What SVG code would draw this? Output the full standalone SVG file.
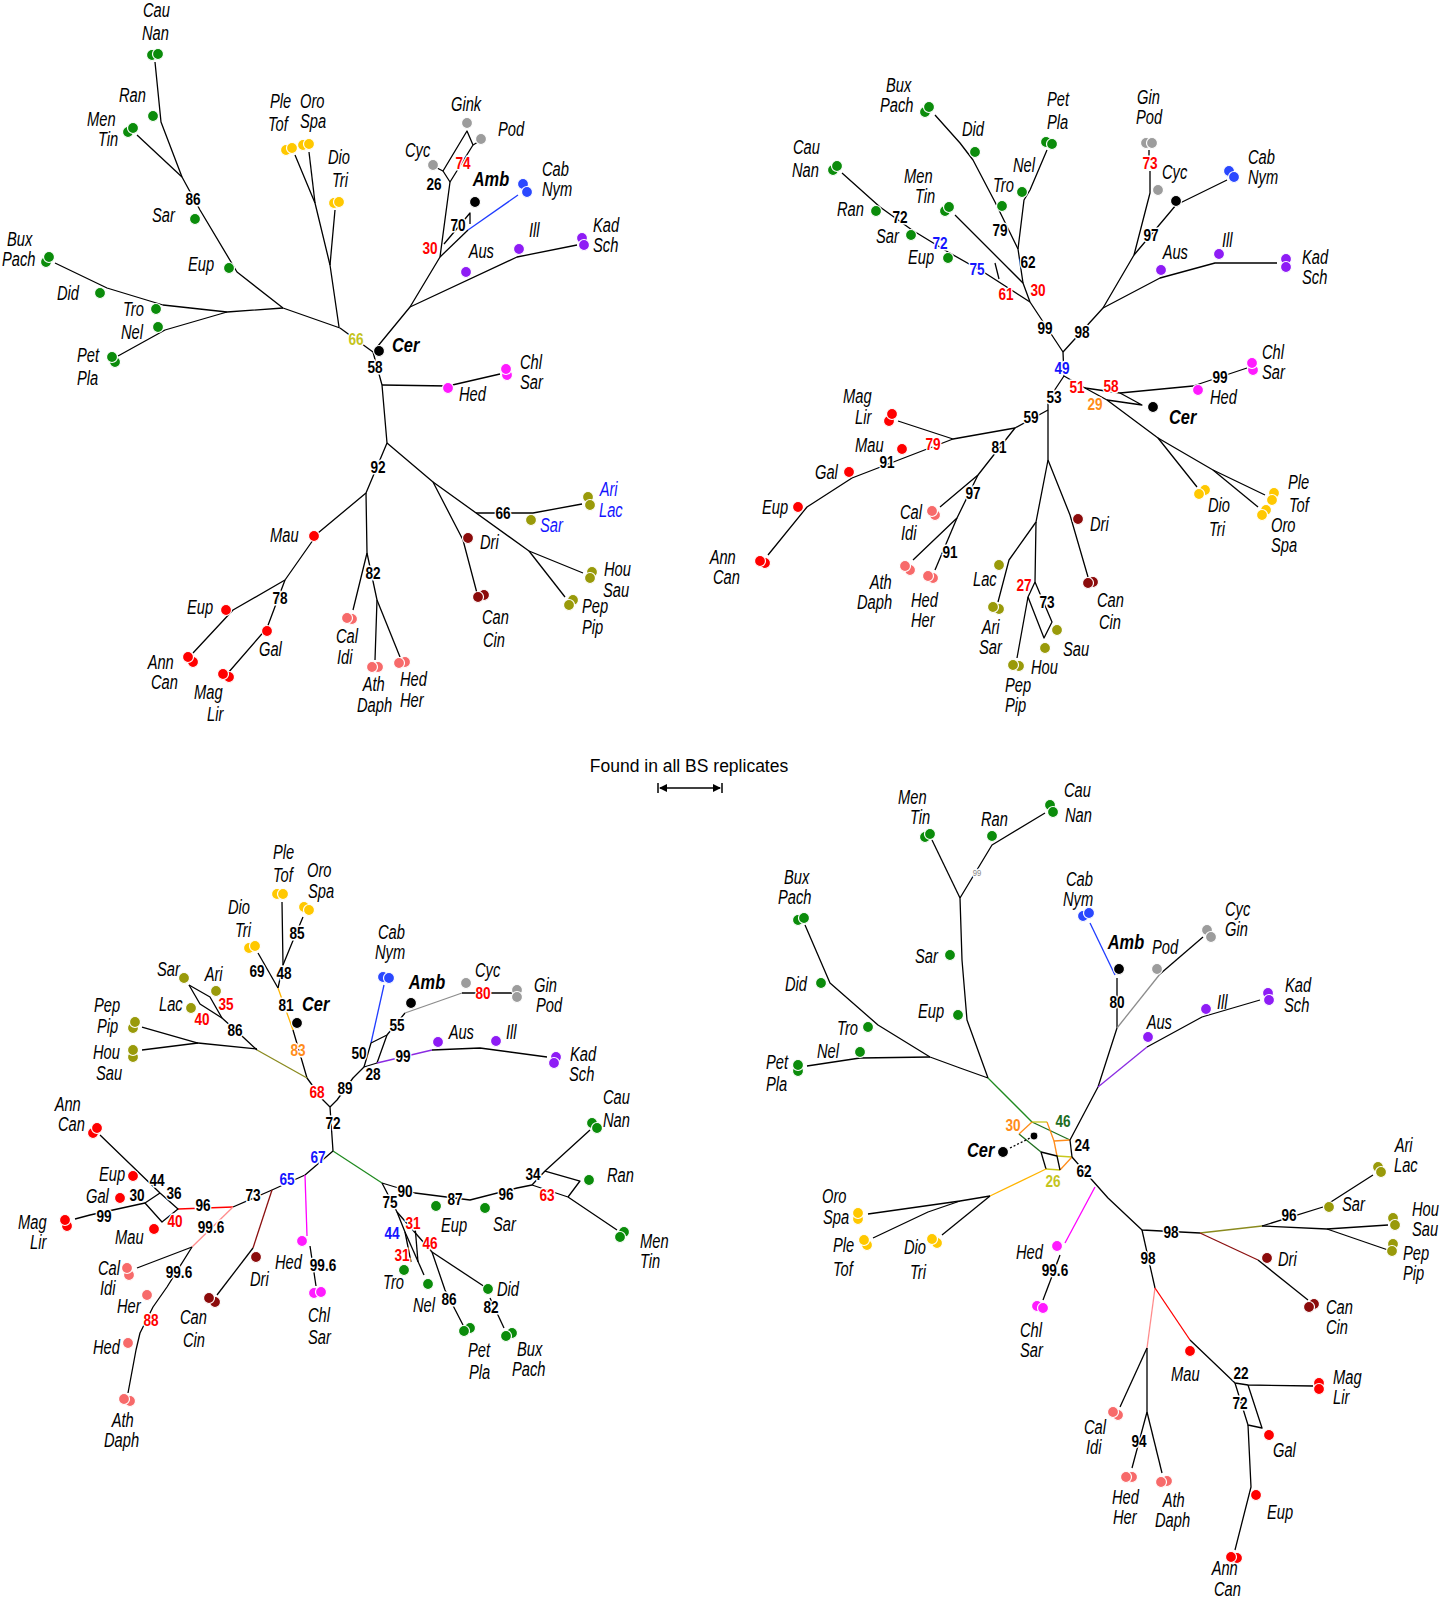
<svg xmlns="http://www.w3.org/2000/svg" width="1441" height="1600" viewBox="0 0 1441 1600">
<style>
.e{fill:none;stroke:#000;stroke-width:1.3;stroke-linejoin:round}
.eB{stroke:#1f3cff}.eY{stroke:#8c8c8c}.eP{stroke:#8a2be2}.eG{stroke:#1f8a1f}.eM{stroke:#ff00ff}.eD{stroke:#8b1010}.eR{stroke:#f00}.eS{stroke:#ff8c8c}.eV{stroke:#8a8a1e}.eO{stroke:#ffb400}.eYG{stroke:#c8c81e}.eOr{stroke:#ff8c1a}.eDG{stroke:#1f6e1f}
.t{font-family:"Liberation Sans",Arial,sans-serif;font-style:italic;font-size:21px;fill:#000;transform-box:fill-box;transform-origin:0 0;transform:scale(.7,1)}
.bi{font-weight:bold;transform:scale(.78,1)}
.n{font-family:"Liberation Sans",Arial,sans-serif;font-weight:bold;font-size:16px;text-anchor:middle;fill:#000;stroke:#fff;stroke-width:3;paint-order:stroke;transform-box:fill-box;transform-origin:50% 50%;transform:scale(.85,1)}
.ti{font-family:"Liberation Sans",Arial,sans-serif;font-size:17.5px;text-anchor:middle;fill:#000}
circle{stroke:#fff;stroke-width:1.2}
.G{fill:#0b8c0b}.Y{fill:#9c9c9c}.B{fill:#2a48ff}.P{fill:#8e1cf5}.M{fill:#ff1aff}.K{fill:#000}.O{fill:#ffc800}.V{fill:#999a0a}.D{fill:#8b0b0b}.R{fill:#ff0000}.S{fill:#f76a6a}
.r{fill:#f00}.bl{fill:#1414ff}.or{fill:#ff8c1a}.yg{fill:#c4c41e}.dg{fill:#1f6e1f}.gy{fill:#888;font-size:9px;font-weight:normal}
</style>

<!-- ===================== Q1 (top-left) ===================== -->
<g id="q1-edges" class="e">
<polyline points="155,62 161,122 182,177"/>
<polyline points="137,135 182,177"/>
<polyline points="182,177 200,210 237,272 283,308 340,328"/>
<polyline points="55,263 107,288 163,305 227,312 283,308"/>
<polyline points="118,356 165,330 227,312"/>
<polyline points="295,155 315,203 330,265 339,327"/>
<polyline points="309,152 315,203"/>
<polyline points="335,210 330,265"/>
<polyline points="340,328 373,352"/>
<polyline points="373,352 410,307 440,257 450,182"/>
<polyline points="450,182 443,171 467,131 473,145 450,182"/>
<polyline points="443,171 437,168"/>
<polyline points="473,145 478,142"/>
<polyline points="410,307 517,257 577,245"/>
<polyline points="440,257 468,230"/>
<polyline points="444,244 470,213 470,224"/>
<polyline class="eB" points="468,230 518,195"/>
<polyline points="373,352 382,385 387,443"/>
<polyline points="382,385 448,386 500,374"/>
<polyline points="387,443 366,493 318,533 285,580 233,610 193,653"/>
<polyline points="285,580 267,628 228,673"/>
<polyline points="366,493 367,553 353,610"/>
<polyline points="367,553 377,600 375,660"/>
<polyline points="377,600 400,657"/>
<polyline points="387,443 433,482 463,540 478,597"/>
<polyline points="433,482 529,551 583,573"/>
<polyline points="529,551 565,597"/>
<polyline points="476,513 533,513 582,504"/>
</g>
<g id="q1-cau"><circle class="G" cx="152" cy="55" r="5.5"/><circle class="G" cx="158" cy="54" r="5.5"/><text class="t" x="143" y="17">Cau</text><text class="t" x="142" y="40">Nan</text></g>
<g id="q1-ran"><circle class="G" cx="153" cy="116" r="5.5"/><text class="t" x="119" y="102">Ran</text></g>
<g id="q1-men"><circle class="G" cx="128" cy="132" r="5.5"/><circle class="G" cx="133" cy="128" r="5.5"/><text class="t" x="87" y="126">Men</text><text class="t" x="98" y="146">Tin</text></g>
<g id="q1-sar"><circle class="G" cx="195" cy="219" r="5.5"/><text class="t" x="152" y="222">Sar</text></g>
<g id="q1-eup"><circle class="G" cx="229" cy="268" r="5.5"/><text class="t" x="188" y="271">Eup</text></g>
<g id="q1-bux"><circle class="G" cx="46" cy="262" r="5.5"/><circle class="G" cx="49" cy="257" r="5.5"/><text class="t" x="7" y="246">Bux</text><text class="t" x="2" y="266">Pach</text></g>
<g id="q1-did"><circle class="G" cx="100" cy="293" r="5.5"/><text class="t" x="57" y="300">Did</text></g>
<g id="q1-tro"><circle class="G" cx="156" cy="309" r="5.5"/><text class="t" x="123" y="316">Tro</text></g>
<g id="q1-nel"><circle class="G" cx="158" cy="327" r="5.5"/><text class="t" x="121" y="339">Nel</text></g>
<g id="q1-pet"><circle class="G" cx="115" cy="362" r="5.5"/><circle class="G" cx="112" cy="357" r="5.5"/><text class="t" x="77" y="362">Pet</text><text class="t" x="77" y="385">Pla</text></g>
<g id="q1-ple"><circle class="O" cx="286" cy="150" r="5.5"/><circle class="O" cx="292" cy="148" r="5.5"/><text class="t" x="270" y="108">Ple</text><text class="t" x="268" y="131">Tof</text></g>
<g id="q1-oro"><circle class="O" cx="303" cy="145" r="5.5"/><circle class="O" cx="309" cy="144" r="5.5"/><text class="t" x="300" y="108">Oro</text><text class="t" x="300" y="128">Spa</text></g>
<g id="q1-dio"><circle class="O" cx="334" cy="203" r="5.5"/><circle class="O" cx="339" cy="202" r="5.5"/><text class="t" x="328" y="164">Dio</text><text class="t" x="332" y="187">Tri</text></g>
<g id="q1-gink"><circle class="Y" cx="467" cy="123" r="5.5"/><text class="t" x="451" y="111">Gink</text></g>
<g id="q1-pod"><circle class="Y" cx="481" cy="139" r="5.5"/><text class="t" x="498" y="136">Pod</text></g>
<g id="q1-cyc"><circle class="Y" cx="433" cy="165" r="5.5"/><text class="t" x="405" y="157">Cyc</text></g>
<g id="q1-amb"><circle class="K" cx="475" cy="202" r="5.5"/><text class="t bi" x="473" y="186">Amb</text></g>
<g id="q1-cab"><circle class="B" cx="523" cy="184" r="5.5"/><circle class="B" cx="527" cy="192" r="5.5"/><text class="t" x="542" y="176">Cab</text><text class="t" x="542" y="196">Nym</text></g>
<g id="q1-aus"><circle class="P" cx="466" cy="272" r="5.5"/><text class="t" x="469" y="258">Aus</text></g>
<g id="q1-ill"><circle class="P" cx="519" cy="249" r="5.5"/><text class="t" x="529" y="237">Ill</text></g>
<g id="q1-kad"><circle class="P" cx="582" cy="238" r="5.5"/><circle class="P" cx="584" cy="245" r="5.5"/><text class="t" x="593" y="232">Kad</text><text class="t" x="593" y="252">Sch</text></g>
<g id="q1-cer"><circle class="K" cx="379" cy="351" r="5.5"/><text class="t bi" x="392" y="352">Cer</text></g>
<g id="q1-hed"><circle class="M" cx="448" cy="388" r="5.5"/><text class="t" x="459" y="401">Hed</text></g>
<g id="q1-chl"><circle class="M" cx="507" cy="375" r="5.5"/><circle class="M" cx="506" cy="369" r="5.5"/><text class="t" x="520" y="369">Chl</text><text class="t" x="520" y="389">Sar</text></g>
<g id="q1-mau"><circle class="R" cx="314" cy="536" r="5.5"/><text class="t" x="270" y="542">Mau</text></g>
<g id="q1-eup2"><circle class="R" cx="226" cy="610" r="5.5"/><text class="t" x="187" y="614">Eup</text></g>
<g id="q1-ann"><circle class="R" cx="193" cy="662" r="5.5"/><circle class="R" cx="188" cy="657" r="5.5"/><text class="t" x="148" y="669">Ann</text><text class="t" x="151" y="689">Can</text></g>
<g id="q1-gal"><circle class="R" cx="267" cy="631" r="5.5"/><text class="t" x="259" y="656">Gal</text></g>
<g id="q1-mag"><circle class="R" cx="229" cy="677" r="5.5"/><circle class="R" cx="223" cy="674" r="5.5"/><text class="t" x="194" y="699">Mag</text><text class="t" x="207" y="721">Lir</text></g>
<g id="q1-cal"><circle class="S" cx="352" cy="619" r="5.5"/><circle class="S" cx="347" cy="618" r="5.5"/><text class="t" x="336" y="643">Cal</text><text class="t" x="337" y="664">Idi</text></g>
<g id="q1-ath"><circle class="S" cx="378" cy="667" r="5.5"/><circle class="S" cx="372" cy="667" r="5.5"/><text class="t" x="363" y="691">Ath</text><text class="t" x="357" y="712">Daph</text></g>
<g id="q1-hedher"><circle class="S" cx="405" cy="662" r="5.5"/><circle class="S" cx="399" cy="663" r="5.5"/><text class="t" x="400" y="686">Hed</text><text class="t" x="400" y="707">Her</text></g>
<g id="q1-dri"><circle class="D" cx="468" cy="538" r="5.5"/><text class="t" x="480" y="549">Dri</text></g>
<g id="q1-can"><circle class="D" cx="484" cy="595" r="5.5"/><circle class="D" cx="478" cy="597" r="5.5"/><text class="t" x="482" y="624">Can</text><text class="t" x="483" y="647">Cin</text></g>
<g id="q1-sar2"><circle class="V" cx="531" cy="520" r="5.5"/><text class="t bl" x="540" y="532">Sar</text></g>
<g id="q1-ari"><circle class="V" cx="588" cy="497" r="5.5"/><circle class="V" cx="590" cy="505" r="5.5"/><text class="t bl" x="600" y="496">Ari</text><text class="t bl" x="599" y="517">Lac</text></g>
<g id="q1-hou"><circle class="V" cx="592" cy="572" r="5.5"/><circle class="V" cx="590" cy="578" r="5.5"/><text class="t" x="604" y="576">Hou</text><text class="t" x="603" y="597">Sau</text></g>
<g id="q1-pep"><circle class="V" cx="573" cy="600" r="5.5"/><circle class="V" cx="569" cy="605" r="5.5"/><text class="t" x="582" y="613">Pep</text><text class="t" x="582" y="634">Pip</text></g>
<g id="q1-support">
<text class="n" x="193" y="205">86</text><text class="n r" x="463" y="169">74</text><text class="n" x="434" y="190">26</text>
<text class="n" x="458" y="231">70</text><text class="n r" x="430" y="254">30</text><text class="n yg" x="356" y="345">66</text>
<text class="n" x="375" y="373">58</text><text class="n" x="378" y="473">92</text><text class="n" x="280" y="604">78</text>
<text class="n" x="373" y="579">82</text><text class="n" x="503" y="519">66</text>
</g>

<!-- ===================== Q2 (top-right) ===================== -->
<g id="q2-edges" class="e">
<polyline points="935,115 960,143 973,160 995,202 1018,249 1023,283 1030,302 1063,352"/>
<polyline points="1047,150 1030,190 1024,200 1018,249"/>
<polyline points="955,215 1023,283"/>
<polyline points="842,173 880,207 912,230 948,252 985,273 1030,302"/>
<polyline points="995,263 999,279"/>
<polyline points="1063,352 1103,308 1134,255 1150,193 1150,171"/>
<polyline points="1149,150 1149,156"/>
<polyline points="1134,255 1176,205 1227,180"/>
<polyline points="1103,308 1160,278 1215,263 1277,263"/>
<polyline points="1063,352 1064,376 1085,388 1107,400 1158,438 1197,487"/>
<polyline points="1158,438 1213,470 1265,495"/>
<polyline points="1213,470 1258,507"/>
<polyline points="1085,388 1120,393 1193,386 1247,368"/>
<polyline points="1120,393 1142,405 1107,400"/>
<polyline points="1064,376 1048,400 1048,460"/>
<polyline points="1048,410 1015,428 953,439 898,421"/>
<polyline points="953,439 852,478 807,507 768,555"/>
<polyline points="1015,428 1000,447 978,475 940,507"/>
<polyline points="978,475 957,518 913,560"/>
<polyline points="957,518 935,570"/>
<polyline points="1048,460 1036,522 1009,560 998,602"/>
<polyline points="1048,460 1070,515 1088,577"/>
<polyline points="1036,522 1035,582 1028,597 1017,658"/>
<polyline points="1035,582 1052,622 1044,638 1028,597"/>
</g>
<g id="q2-bux"><circle class="G" cx="925" cy="112" r="5.5"/><circle class="G" cx="929" cy="107" r="5.5"/><text class="t" x="886" y="92">Bux</text><text class="t" x="880" y="112">Pach</text></g>
<g id="q2-did"><circle class="G" cx="975" cy="152" r="5.5"/><text class="t" x="962" y="136">Did</text></g>
<g id="q2-tro"><circle class="G" cx="1002" cy="206" r="5.5"/><text class="t" x="993" y="192">Tro</text></g>
<g id="q2-pet"><circle class="G" cx="1046" cy="142" r="5.5"/><circle class="G" cx="1052" cy="144" r="5.5"/><text class="t" x="1047" y="106">Pet</text><text class="t" x="1047" y="129">Pla</text></g>
<g id="q2-nel"><circle class="G" cx="1022" cy="192" r="5.5"/><text class="t" x="1013" y="172">Nel</text></g>
<g id="q2-cau"><circle class="G" cx="833" cy="170" r="5.5"/><circle class="G" cx="837" cy="166" r="5.5"/><text class="t" x="793" y="154">Cau</text><text class="t" x="792" y="177">Nan</text></g>
<g id="q2-ran"><circle class="G" cx="876" cy="211" r="5.5"/><text class="t" x="837" y="216">Ran</text></g>
<g id="q2-men"><circle class="G" cx="945" cy="211" r="5.5"/><circle class="G" cx="949" cy="207" r="5.5"/><text class="t" x="904" y="183">Men</text><text class="t" x="915" y="203">Tin</text></g>
<g id="q2-sar"><circle class="G" cx="911" cy="235" r="5.5"/><text class="t" x="876" y="243">Sar</text></g>
<g id="q2-eup"><circle class="G" cx="948" cy="258" r="5.5"/><text class="t" x="908" y="264">Eup</text></g>
<g id="q2-gin"><circle class="Y" cx="1146" cy="143" r="5.5"/><circle class="Y" cx="1152" cy="143" r="5.5"/><text class="t" x="1137" y="104">Gin</text><text class="t" x="1136" y="124">Pod</text></g>
<g id="q2-cyc"><circle class="Y" cx="1158" cy="190" r="5.5"/><text class="t" x="1162" y="179">Cyc</text></g>
<g id="q2-amb"><circle class="K" cx="1176" cy="201" r="5.5"/></g>
<g id="q2-cab"><circle class="B" cx="1229" cy="171" r="5.5"/><circle class="B" cx="1234" cy="177" r="5.5"/><text class="t" x="1248" y="164">Cab</text><text class="t" x="1248" y="184">Nym</text></g>
<g id="q2-aus"><circle class="P" cx="1161" cy="270" r="5.5"/><text class="t" x="1163" y="259">Aus</text></g>
<g id="q2-ill"><circle class="P" cx="1219" cy="254" r="5.5"/><text class="t" x="1222" y="247">Ill</text></g>
<g id="q2-kad"><circle class="P" cx="1286" cy="259" r="5.5"/><circle class="P" cx="1286" cy="267" r="5.5"/><text class="t" x="1302" y="264">Kad</text><text class="t" x="1302" y="284">Sch</text></g>
<g id="q2-hed"><circle class="M" cx="1198" cy="390" r="5.5"/><text class="t" x="1210" y="404">Hed</text></g>
<g id="q2-chl"><circle class="M" cx="1253" cy="370" r="5.5"/><circle class="M" cx="1252" cy="363" r="5.5"/><text class="t" x="1262" y="359">Chl</text><text class="t" x="1262" y="379">Sar</text></g>
<g id="q2-cer"><circle class="K" cx="1153" cy="407" r="5.5"/><text class="t bi" x="1169" y="424">Cer</text></g>
<g id="q2-dio"><circle class="O" cx="1205" cy="490" r="5.5"/><circle class="O" cx="1199" cy="494" r="5.5"/><text class="t" x="1208" y="512">Dio</text><text class="t" x="1209" y="536">Tri</text></g>
<g id="q2-ple"><circle class="O" cx="1274" cy="493" r="5.5"/><circle class="O" cx="1272" cy="500" r="5.5"/><text class="t" x="1288" y="489">Ple</text><text class="t" x="1289" y="512">Tof</text></g>
<g id="q2-oro"><circle class="O" cx="1266" cy="510" r="5.5"/><circle class="O" cx="1262" cy="515" r="5.5"/><text class="t" x="1271" y="532">Oro</text><text class="t" x="1271" y="552">Spa</text></g>
<g id="q2-mag"><circle class="R" cx="889" cy="421" r="5.5"/><circle class="R" cx="892" cy="414" r="5.5"/><text class="t" x="843" y="403">Mag</text><text class="t" x="855" y="424">Lir</text></g>
<g id="q2-mau"><circle class="R" cx="902" cy="449" r="5.5"/><text class="t" x="855" y="452">Mau</text></g>
<g id="q2-gal"><circle class="R" cx="849" cy="472" r="5.5"/><text class="t" x="815" y="479">Gal</text></g>
<g id="q2-eup2"><circle class="R" cx="798" cy="507" r="5.5"/><text class="t" x="762" y="514">Eup</text></g>
<g id="q2-ann"><circle class="R" cx="765" cy="563" r="5.5"/><circle class="R" cx="760" cy="561" r="5.5"/><text class="t" x="710" y="564">Ann</text><text class="t" x="713" y="584">Can</text></g>
<g id="q2-cal"><circle class="S" cx="935" cy="515" r="5.5"/><circle class="S" cx="932" cy="511" r="5.5"/><text class="t" x="900" y="519">Cal</text><text class="t" x="901" y="540">Idi</text></g>
<g id="q2-ath"><circle class="S" cx="910" cy="570" r="5.5"/><circle class="S" cx="905" cy="566" r="5.5"/><text class="t" x="870" y="589">Ath</text><text class="t" x="857" y="609">Daph</text></g>
<g id="q2-hedher"><circle class="S" cx="933" cy="578" r="5.5"/><circle class="S" cx="928" cy="576" r="5.5"/><text class="t" x="911" y="607">Hed</text><text class="t" x="911" y="627">Her</text></g>
<g id="q2-dri"><circle class="D" cx="1078" cy="519" r="5.5"/><text class="t" x="1090" y="531">Dri</text></g>
<g id="q2-can"><circle class="D" cx="1093" cy="582" r="5.5"/><circle class="D" cx="1088" cy="583" r="5.5"/><text class="t" x="1097" y="607">Can</text><text class="t" x="1099" y="629">Cin</text></g>
<g id="q2-lac"><circle class="V" cx="999" cy="565" r="5.5"/><text class="t" x="973" y="586">Lac</text></g>
<g id="q2-ari"><circle class="V" cx="999" cy="609" r="5.5"/><circle class="V" cx="993" cy="607" r="5.5"/><text class="t" x="982" y="634">Ari</text><text class="t" x="979" y="654">Sar</text></g>
<g id="q2-sau"><circle class="V" cx="1057" cy="630" r="5.5"/><text class="t" x="1063" y="656">Sau</text></g>
<g id="q2-hou"><circle class="V" cx="1045" cy="648" r="5.5"/><text class="t" x="1031" y="674">Hou</text></g>
<g id="q2-pep"><circle class="V" cx="1019" cy="666" r="5.5"/><circle class="V" cx="1013" cy="665" r="5.5"/><text class="t" x="1005" y="692">Pep</text><text class="t" x="1005" y="712">Pip</text></g>
<g id="q2-support">
<text class="n" x="900" y="223">72</text><text class="n bl" x="940" y="249">72</text><text class="n bl" x="977" y="275">75</text>
<text class="n r" x="1006" y="300">61</text><text class="n r" x="1038" y="296">30</text><text class="n" x="1000" y="236">79</text>
<text class="n" x="1028" y="268">62</text><text class="n" x="1045" y="334">99</text><text class="n" x="1082" y="338">98</text>
<text class="n bl" x="1062" y="374">49</text><text class="n r" x="1150" y="169">73</text><text class="n" x="1151" y="241">97</text>
<text class="n r" x="1077" y="393">51</text><text class="n r" x="1111" y="392">58</text><text class="n or" x="1095" y="410">29</text>
<text class="n" x="1054" y="403">53</text><text class="n" x="1220" y="383">99</text><text class="n" x="1031" y="423">59</text>
<text class="n" x="999" y="453">81</text><text class="n" x="973" y="499">97</text><text class="n r" x="933" y="450">79</text>
<text class="n" x="887" y="468">91</text><text class="n" x="950" y="558">91</text><text class="n r" x="1024" y="591">27</text>
<text class="n" x="1047" y="608">73</text>
</g>

<!-- ===================== centre legend ===================== -->
<g id="legend">
<text class="ti" x="689" y="772">Found in all BS replicates</text>
<line x1="660" y1="788" x2="720" y2="788" stroke="#000" stroke-width="1.5"/>
<line x1="658" y1="783" x2="658" y2="793" stroke="#000" stroke-width="1.5"/>
<line x1="722" y1="783" x2="722" y2="793" stroke="#000" stroke-width="1.5"/>
<polygon points="659,788 667,784 667,792" fill="#000"/>
<polygon points="721,788 713,784 713,792" fill="#000"/>
</g>

<!-- ===================== Q3 (bottom-left) ===================== -->
<g id="q3-edges" class="e">
<polyline points="282,902 283,965 278,988"/>
<polyline points="303,917 292,943 283,965"/>
<polyline points="258,953 278,988"/>
<polyline class="eO" points="278,988 293,1030"/>
<polyline points="293,1030 307,1078 323,1100 330,1107 333,1151"/>
<polyline class="eV" points="257,1050 307,1078"/>
<polyline points="142,1027 198,1043 257,1049"/>
<polyline points="142,1050 198,1043"/>
<polyline points="189,985 210,997 222,1018 243,1037 257,1050"/>
<polyline points="189,985 200,1004 222,1018"/>
<polyline class="eB" points="384,985 371,1043"/>
<polyline points="371,1043 387,1035 405,1013"/>
<polyline points="387,1035 377,1063 364,1067 371,1043"/>
<polyline points="364,1067 353,1078 337,1100 330,1107"/>
<polyline class="eY" points="405,1013 462,993"/>
<polyline points="462,993 512,993"/>
<polyline class="eP" points="377,1063 432,1050"/>
<polyline points="432,1050 480,1048 547,1057"/>
<polyline class="eG" points="333,1151 382,1183"/>
<polyline points="333,1151 305,1175 272,1190 233,1207"/>
<polyline class="eM" points="305,1175 307,1236"/>
<polyline points="310,1246 316,1286"/>
<polyline class="eD" points="272,1190 253,1248"/>
<polyline points="253,1248 217,1295"/>
<polyline class="eR" points="233,1207 178,1209"/>
<polyline class="eS" points="233,1207 192,1247"/>
<polyline points="192,1247 137,1268"/>
<polyline points="192,1247 167,1287 153,1307 140,1333 136,1350 128,1393"/>
<polyline points="100,1135 160,1193 178,1209 162,1222 145,1203 160,1193"/>
<polyline points="75,1219 90,1215 145,1203"/>
<polyline points="382,1183 415,1193 470,1200 517,1188 532,1185"/>
<polyline points="382,1183 397,1212 405,1232 411,1262"/>
<polyline points="405,1232 424,1275"/>
<polyline points="397,1212 432,1252"/>
<polyline points="415,1226 418,1262"/>
<polyline points="432,1252 445,1290 463,1325"/>
<polyline points="432,1252 485,1287"/>
<polyline points="490,1298 504,1328"/>
<polyline points="532,1185 545,1171 590,1130"/>
<polyline points="532,1185 568,1197 617,1230"/>
<polyline points="545,1171 580,1181 568,1197"/>
</g>
<g id="q3-ple"><circle class="O" cx="277" cy="894" r="5.5"/><circle class="O" cx="283" cy="894" r="5.5"/><text class="t" x="273" y="859">Ple</text><text class="t" x="273" y="882">Tof</text></g>
<g id="q3-oro"><circle class="O" cx="304" cy="907" r="5.5"/><circle class="O" cx="309" cy="910" r="5.5"/><text class="t" x="307" y="877">Oro</text><text class="t" x="308" y="898">Spa</text></g>
<g id="q3-dio"><circle class="O" cx="249" cy="948" r="5.5"/><circle class="O" cx="255" cy="946" r="5.5"/><text class="t" x="228" y="914">Dio</text><text class="t" x="235" y="937">Tri</text></g>
<g id="q3-cer"><circle class="K" cx="297" cy="1023" r="5.5"/><text class="t bi" x="302" y="1011">Cer</text></g>
<g id="q3-sar"><circle class="V" cx="184" cy="978" r="5.5"/><text class="t" x="157" y="976">Sar</text></g>
<g id="q3-ari"><circle class="V" cx="216" cy="991" r="5.5"/><text class="t" x="205" y="981">Ari</text></g>
<g id="q3-lac"><circle class="V" cx="191" cy="1008" r="5.5"/><text class="t" x="159" y="1011">Lac</text></g>
<g id="q3-pep"><circle class="V" cx="133" cy="1028" r="5.5"/><circle class="V" cx="135" cy="1022" r="5.5"/><text class="t" x="94" y="1012">Pep</text><text class="t" x="97" y="1033">Pip</text></g>
<g id="q3-hou"><circle class="V" cx="133" cy="1057" r="5.5"/><circle class="V" cx="133" cy="1050" r="5.5"/><text class="t" x="93" y="1059">Hou</text><text class="t" x="96" y="1080">Sau</text></g>
<g id="q3-cab"><circle class="B" cx="383" cy="977" r="5.5"/><circle class="B" cx="389" cy="978" r="5.5"/><text class="t" x="378" y="939">Cab</text><text class="t" x="375" y="959">Nym</text></g>
<g id="q3-amb"><circle class="K" cx="411" cy="1003" r="5.5"/><text class="t bi" x="409" y="989">Amb</text></g>
<g id="q3-cyc"><circle class="Y" cx="466" cy="983" r="5.5"/><text class="t" x="475" y="977">Cyc</text></g>
<g id="q3-gin"><circle class="Y" cx="517" cy="990" r="5.5"/><circle class="Y" cx="517" cy="997" r="5.5"/><text class="t" x="534" y="992">Gin</text><text class="t" x="536" y="1012">Pod</text></g>
<g id="q3-aus"><circle class="P" cx="438" cy="1042" r="5.5"/><text class="t" x="449" y="1039">Aus</text></g>
<g id="q3-ill"><circle class="P" cx="496" cy="1041" r="5.5"/><text class="t" x="506" y="1039">Ill</text></g>
<g id="q3-kad"><circle class="P" cx="556" cy="1057" r="5.5"/><circle class="P" cx="554" cy="1063" r="5.5"/><text class="t" x="570" y="1061">Kad</text><text class="t" x="569" y="1081">Sch</text></g>
<g id="q3-ann"><circle class="R" cx="93" cy="1133" r="5.5"/><circle class="R" cx="97" cy="1128" r="5.5"/><text class="t" x="55" y="1111">Ann</text><text class="t" x="58" y="1131">Can</text></g>
<g id="q3-eup"><circle class="R" cx="133" cy="1176" r="5.5"/><text class="t" x="99" y="1181">Eup</text></g>
<g id="q3-gal"><circle class="R" cx="120" cy="1198" r="5.5"/><text class="t" x="86" y="1203">Gal</text></g>
<g id="q3-mag"><circle class="R" cx="67" cy="1226" r="5.5"/><circle class="R" cx="65" cy="1220" r="5.5"/><text class="t" x="18" y="1229">Mag</text><text class="t" x="30" y="1249">Lir</text></g>
<g id="q3-mau"><circle class="R" cx="154" cy="1229" r="5.5"/><text class="t" x="115" y="1244">Mau</text></g>
<g id="q3-cal"><circle class="S" cx="129" cy="1275" r="5.5"/><circle class="S" cx="127" cy="1268" r="5.5"/><text class="t" x="98" y="1275">Cal</text><text class="t" x="100" y="1295">Idi</text></g>
<g id="q3-her"><circle class="S" cx="147" cy="1295" r="5.5"/><text class="t" x="117" y="1313">Her</text></g>
<g id="q3-hed"><circle class="S" cx="128" cy="1343" r="5.5"/><text class="t" x="93" y="1354">Hed</text></g>
<g id="q3-ath"><circle class="S" cx="130" cy="1401" r="5.5"/><circle class="S" cx="124" cy="1399" r="5.5"/><text class="t" x="112" y="1427">Ath</text><text class="t" x="104" y="1447">Daph</text></g>
<g id="q3-dri"><circle class="D" cx="256" cy="1257" r="5.5"/><text class="t" x="250" y="1286">Dri</text></g>
<g id="q3-can"><circle class="D" cx="215" cy="1302" r="5.5"/><circle class="D" cx="209" cy="1298" r="5.5"/><text class="t" x="180" y="1324">Can</text><text class="t" x="183" y="1347">Cin</text></g>
<g id="q3-hedm"><circle class="M" cx="302" cy="1241" r="5.5"/><text class="t" x="275" y="1269">Hed</text></g>
<g id="q3-chl"><circle class="M" cx="314" cy="1293" r="5.5"/><circle class="M" cx="321" cy="1292" r="5.5"/><text class="t" x="308" y="1322">Chl</text><text class="t" x="308" y="1344">Sar</text></g>
<g id="q3-eupg"><circle class="G" cx="436" cy="1206" r="5.5"/><text class="t" x="441" y="1232">Eup</text></g>
<g id="q3-sarg"><circle class="G" cx="485" cy="1208" r="5.5"/><text class="t" x="493" y="1231">Sar</text></g>
<g id="q3-tro"><circle class="G" cx="404" cy="1270" r="5.5"/><text class="t" x="383" y="1289">Tro</text></g>
<g id="q3-nel"><circle class="G" cx="428" cy="1284" r="5.5"/><text class="t" x="413" y="1312">Nel</text></g>
<g id="q3-did"><circle class="G" cx="488" cy="1289" r="5.5"/><text class="t" x="497" y="1296">Did</text></g>
<g id="q3-pet"><circle class="G" cx="470" cy="1328" r="5.5"/><circle class="G" cx="464" cy="1331" r="5.5"/><text class="t" x="468" y="1357">Pet</text><text class="t" x="469" y="1379">Pla</text></g>
<g id="q3-bux"><circle class="G" cx="512" cy="1333" r="5.5"/><circle class="G" cx="506" cy="1336" r="5.5"/><text class="t" x="517" y="1356">Bux</text><text class="t" x="512" y="1376">Pach</text></g>
<g id="q3-cau"><circle class="G" cx="592" cy="1123" r="5.5"/><circle class="G" cx="597" cy="1128" r="5.5"/><text class="t" x="603" y="1104">Cau</text><text class="t" x="603" y="1127">Nan</text></g>
<g id="q3-ran"><circle class="G" cx="589" cy="1180" r="5.5"/><text class="t" x="607" y="1182">Ran</text></g>
<g id="q3-men"><circle class="G" cx="624" cy="1232" r="5.5"/><circle class="G" cx="620" cy="1237" r="5.5"/><text class="t" x="640" y="1248">Men</text><text class="t" x="640" y="1268">Tin</text></g>
<g id="q3-support">
<text class="n" x="297" y="939">85</text><text class="n" x="257" y="977">69</text><text class="n" x="284" y="979">48</text>
<text class="n" x="286" y="1011">81</text><text class="n or" x="298" y="1056">83</text><text class="n r" x="317" y="1098">68</text>
<text class="n r" x="226" y="1010">35</text><text class="n r" x="202" y="1025">40</text><text class="n" x="235" y="1036">86</text>
<text class="n r" x="483" y="999">80</text><text class="n" x="397" y="1031">55</text><text class="n" x="359" y="1059">50</text>
<text class="n" x="373" y="1080">28</text><text class="n" x="403" y="1062">99</text><text class="n" x="345" y="1094">89</text>
<text class="n" x="333" y="1129">72</text><text class="n bl" x="318" y="1163">67</text><text class="n bl" x="287" y="1185">65</text>
<text class="n" x="253" y="1201">73</text><text class="n" x="157" y="1186">44</text><text class="n" x="137" y="1201">30</text>
<text class="n" x="174" y="1199">36</text><text class="n" x="203" y="1211">96</text><text class="n" x="104" y="1222">99</text>
<text class="n r" x="175" y="1227">40</text><text class="n" x="211" y="1233">99.6</text><text class="n" x="179" y="1278">99.6</text>
<text class="n r" x="151" y="1326">88</text><text class="n" x="323" y="1271">99.6</text><text class="n" x="405" y="1197">90</text>
<text class="n" x="390" y="1208">75</text><text class="n" x="455" y="1205">87</text><text class="n" x="506" y="1200">96</text>
<text class="n" x="533" y="1180">34</text><text class="n r" x="547" y="1201">63</text><text class="n bl" x="392" y="1239">44</text>
<text class="n r" x="413" y="1229">31</text><text class="n r" x="430" y="1249">46</text><text class="n r" x="402" y="1261">31</text>
<text class="n" x="449" y="1305">86</text><text class="n" x="491" y="1313">82</text>
</g>

<!-- ===================== Q4 (bottom-right) ===================== -->
<g id="q4-edges" class="e">
<polyline points="932,840 960,898"/>
<polyline points="1045,813 992,845 960,898 962,960 967,1020 988,1078"/>
<polyline points="805,925 830,983 878,1025 930,1057 960,1068 988,1078"/>
<polyline points="807,1066 860,1058 930,1057"/>
<polyline class="eG" points="988,1078 1032,1122"/>
<polyline class="eDG" points="1032,1122 1070,1140"/>
<polyline class="eDG" points="1019,1134 1041,1152"/>
<polyline class="eYG" points="1032,1122 1047,1122"/>
<polyline class="eYG" points="1057,1156 1072,1157"/>
<polyline class="eYG" points="1046,1169 1060,1170"/>
<polyline class="eOr" points="1019,1134 1032,1122"/>
<polyline class="eOr" points="1047,1122 1054,1141 1070,1140"/>
<polyline class="eOr" points="1054,1141 1057,1156"/>
<polyline class="eOr" points="1072,1157 1060,1170"/>
<polyline points="1041,1152 1057,1156 1060,1170"/>
<polyline points="1041,1152 1046,1169"/>
<polyline points="1070,1140 1072,1157"/>
<polyline points="1010,1148 1032,1137" stroke-dasharray="2,2"/>
<polyline points="1070,1140 1098,1087 1117,1028 1117,978"/>
<polyline class="eP" points="1098,1087 1147,1047"/>
<polyline points="1147,1047 1202,1017 1260,1000"/>
<polyline class="eY" points="1117,1028 1160,974"/>
<polyline points="1160,974 1203,937"/>
<polyline class="eB" points="1115,975 1090,923"/>
<polyline points="1072,1157 1092,1180 1108,1198 1142,1230 1200,1233"/>
<polyline class="eM" points="1095,1187 1065,1243"/>
<polyline points="1060,1255 1043,1300"/>
<polyline class="eV" points="1200,1233 1262,1226"/>
<polyline points="1262,1226 1323,1207 1373,1175"/>
<polyline points="1262,1226 1327,1229 1388,1225"/>
<polyline points="1327,1229 1388,1250"/>
<polyline class="eD" points="1200,1233 1258,1260"/>
<polyline points="1258,1260 1308,1300"/>
<polyline points="1142,1230 1155,1288"/>
<polyline class="eS" points="1155,1288 1147,1348"/>
<polyline class="eR" points="1155,1288 1190,1340"/>
<polyline points="1190,1340 1235,1383 1248,1385 1313,1386"/>
<polyline points="1235,1383 1248,1425 1262,1428 1248,1385"/>
<polyline points="1248,1425 1251,1487 1235,1550"/>
<polyline points="1147,1348 1120,1407"/>
<polyline points="1147,1348 1147,1412 1132,1468"/>
<polyline points="1147,1412 1162,1473"/>
<polyline class="eO" points="1046,1169 990,1196"/>
<polyline points="990,1196 960,1201 868,1214"/>
<polyline points="960,1201 928,1212 873,1238"/>
<polyline points="990,1196 942,1235"/>
</g>
<g id="q4-men"><circle class="G" cx="925" cy="837" r="5.5"/><circle class="G" cx="930" cy="834" r="5.5"/><text class="t" x="898" y="804">Men</text><text class="t" x="910" y="824">Tin</text></g>
<g id="q4-ran"><circle class="G" cx="992" cy="836" r="5.5"/><text class="t" x="981" y="826">Ran</text></g>
<g id="q4-cau"><circle class="G" cx="1050" cy="805" r="5.5"/><circle class="G" cx="1053" cy="812" r="5.5"/><text class="t" x="1064" y="797">Cau</text><text class="t" x="1065" y="822">Nan</text></g>
<g id="q4-sar"><circle class="G" cx="950" cy="955" r="5.5"/><text class="t" x="915" y="963">Sar</text></g>
<g id="q4-eup"><circle class="G" cx="958" cy="1015" r="5.5"/><text class="t" x="918" y="1018">Eup</text></g>
<g id="q4-bux"><circle class="G" cx="798" cy="920" r="5.5"/><circle class="G" cx="804" cy="918" r="5.5"/><text class="t" x="784" y="884">Bux</text><text class="t" x="778" y="904">Pach</text></g>
<g id="q4-did"><circle class="G" cx="821" cy="983" r="5.5"/><text class="t" x="785" y="991">Did</text></g>
<g id="q4-tro"><circle class="G" cx="868" cy="1027" r="5.5"/><text class="t" x="837" y="1035">Tro</text></g>
<g id="q4-nel"><circle class="G" cx="860" cy="1052" r="5.5"/><text class="t" x="817" y="1058">Nel</text></g>
<g id="q4-pet"><circle class="G" cx="798" cy="1071" r="5.5"/><circle class="G" cx="798" cy="1065" r="5.5"/><text class="t" x="766" y="1069">Pet</text><text class="t" x="766" y="1091">Pla</text></g>
<g id="q4-cer"><circle class="K" cx="1003" cy="1152" r="5.5"/><circle class="K" cx="1034" cy="1136" r="4"/><text class="t bi" x="967" y="1157">Cer</text></g>
<g id="q4-cab"><circle class="B" cx="1083" cy="916" r="5.5"/><circle class="B" cx="1089" cy="913" r="5.5"/><text class="t" x="1066" y="886">Cab</text><text class="t" x="1063" y="906">Nym</text></g>
<g id="q4-amb"><circle class="K" cx="1119" cy="969" r="5.5"/><text class="t bi" x="1108" y="949">Amb</text></g>
<g id="q4-pod"><circle class="Y" cx="1157" cy="969" r="5.5"/><text class="t" x="1152" y="954">Pod</text></g>
<g id="q4-cyc"><circle class="Y" cx="1207" cy="930" r="5.5"/><circle class="Y" cx="1211" cy="937" r="5.5"/><text class="t" x="1225" y="916">Cyc</text><text class="t" x="1225" y="936">Gin</text></g>
<g id="q4-aus"><circle class="P" cx="1148" cy="1037" r="5.5"/><text class="t" x="1147" y="1029">Aus</text></g>
<g id="q4-ill"><circle class="P" cx="1206" cy="1009" r="5.5"/><text class="t" x="1217" y="1009">Ill</text></g>
<g id="q4-kad"><circle class="P" cx="1268" cy="993" r="5.5"/><circle class="P" cx="1269" cy="1000" r="5.5"/><text class="t" x="1285" y="992">Kad</text><text class="t" x="1284" y="1012">Sch</text></g>
<g id="q4-ari"><circle class="V" cx="1378" cy="1167" r="5.5"/><circle class="V" cx="1381" cy="1172" r="5.5"/><text class="t" x="1395" y="1152">Ari</text><text class="t" x="1394" y="1172">Lac</text></g>
<g id="q4-sar2"><circle class="V" cx="1329" cy="1207" r="5.5"/><text class="t" x="1342" y="1211">Sar</text></g>
<g id="q4-hou"><circle class="V" cx="1393" cy="1218" r="5.5"/><circle class="V" cx="1395" cy="1225" r="5.5"/><text class="t" x="1412" y="1216">Hou</text><text class="t" x="1412" y="1236">Sau</text></g>
<g id="q4-pep"><circle class="V" cx="1393" cy="1244" r="5.5"/><circle class="V" cx="1392" cy="1251" r="5.5"/><text class="t" x="1403" y="1260">Pep</text><text class="t" x="1403" y="1280">Pip</text></g>
<g id="q4-dri"><circle class="D" cx="1267" cy="1258" r="5.5"/><text class="t" x="1278" y="1266">Dri</text></g>
<g id="q4-can"><circle class="D" cx="1314" cy="1304" r="5.5"/><circle class="D" cx="1309" cy="1307" r="5.5"/><text class="t" x="1326" y="1314">Can</text><text class="t" x="1326" y="1334">Cin</text></g>
<g id="q4-hed"><circle class="M" cx="1057" cy="1246" r="5.5"/><text class="t" x="1016" y="1259">Hed</text></g>
<g id="q4-chl"><circle class="M" cx="1037" cy="1306" r="5.5"/><circle class="M" cx="1043" cy="1308" r="5.5"/><text class="t" x="1020" y="1337">Chl</text><text class="t" x="1020" y="1357">Sar</text></g>
<g id="q4-mau"><circle class="R" cx="1190" cy="1351" r="5.5"/><text class="t" x="1171" y="1381">Mau</text></g>
<g id="q4-mag"><circle class="R" cx="1319" cy="1383" r="5.5"/><circle class="R" cx="1319" cy="1389" r="5.5"/><text class="t" x="1333" y="1384">Mag</text><text class="t" x="1333" y="1404">Lir</text></g>
<g id="q4-gal"><circle class="R" cx="1269" cy="1435" r="5.5"/><text class="t" x="1273" y="1457">Gal</text></g>
<g id="q4-eup2"><circle class="R" cx="1256" cy="1495" r="5.5"/><text class="t" x="1267" y="1519">Eup</text></g>
<g id="q4-ann"><circle class="R" cx="1237" cy="1558" r="5.5"/><circle class="R" cx="1231" cy="1557" r="5.5"/><text class="t" x="1212" y="1575">Ann</text><text class="t" x="1214" y="1596">Can</text></g>
<g id="q4-cal"><circle class="S" cx="1118" cy="1415" r="5.5"/><circle class="S" cx="1113" cy="1412" r="5.5"/><text class="t" x="1084" y="1434">Cal</text><text class="t" x="1086" y="1454">Idi</text></g>
<g id="q4-hedher"><circle class="S" cx="1132" cy="1477" r="5.5"/><circle class="S" cx="1126" cy="1477" r="5.5"/><text class="t" x="1112" y="1504">Hed</text><text class="t" x="1113" y="1524">Her</text></g>
<g id="q4-ath"><circle class="S" cx="1167" cy="1481" r="5.5"/><circle class="S" cx="1161" cy="1482" r="5.5"/><text class="t" x="1163" y="1507">Ath</text><text class="t" x="1155" y="1527">Daph</text></g>
<g id="q4-oro"><circle class="O" cx="858" cy="1219" r="5.5"/><circle class="O" cx="858" cy="1213" r="5.5"/><text class="t" x="822" y="1203">Oro</text><text class="t" x="823" y="1224">Spa</text></g>
<g id="q4-ple"><circle class="O" cx="867" cy="1245" r="5.5"/><circle class="O" cx="864" cy="1240" r="5.5"/><text class="t" x="833" y="1252">Ple</text><text class="t" x="833" y="1276">Tof</text></g>
<g id="q4-dio"><circle class="O" cx="937" cy="1243" r="5.5"/><circle class="O" cx="932" cy="1239" r="5.5"/><text class="t" x="904" y="1254">Dio</text><text class="t" x="910" y="1279">Tri</text></g>
<g id="q4-support">
<text class="n gy" x="977" y="876">99</text><text class="n" x="1117" y="1008">80</text>
<text class="n or" x="1013" y="1131">30</text><text class="n dg" x="1063" y="1127">46</text><text class="n" x="1082" y="1151">24</text>
<text class="n" x="1084" y="1177">62</text><text class="n yg" x="1053" y="1187">26</text><text class="n" x="1171" y="1238">98</text>
<text class="n" x="1289" y="1221">96</text><text class="n" x="1055" y="1276">99.6</text><text class="n" x="1148" y="1264">98</text>
<text class="n" x="1241" y="1379">22</text><text class="n" x="1240" y="1409">72</text><text class="n" x="1139" y="1447">94</text>
</g>
</svg>
